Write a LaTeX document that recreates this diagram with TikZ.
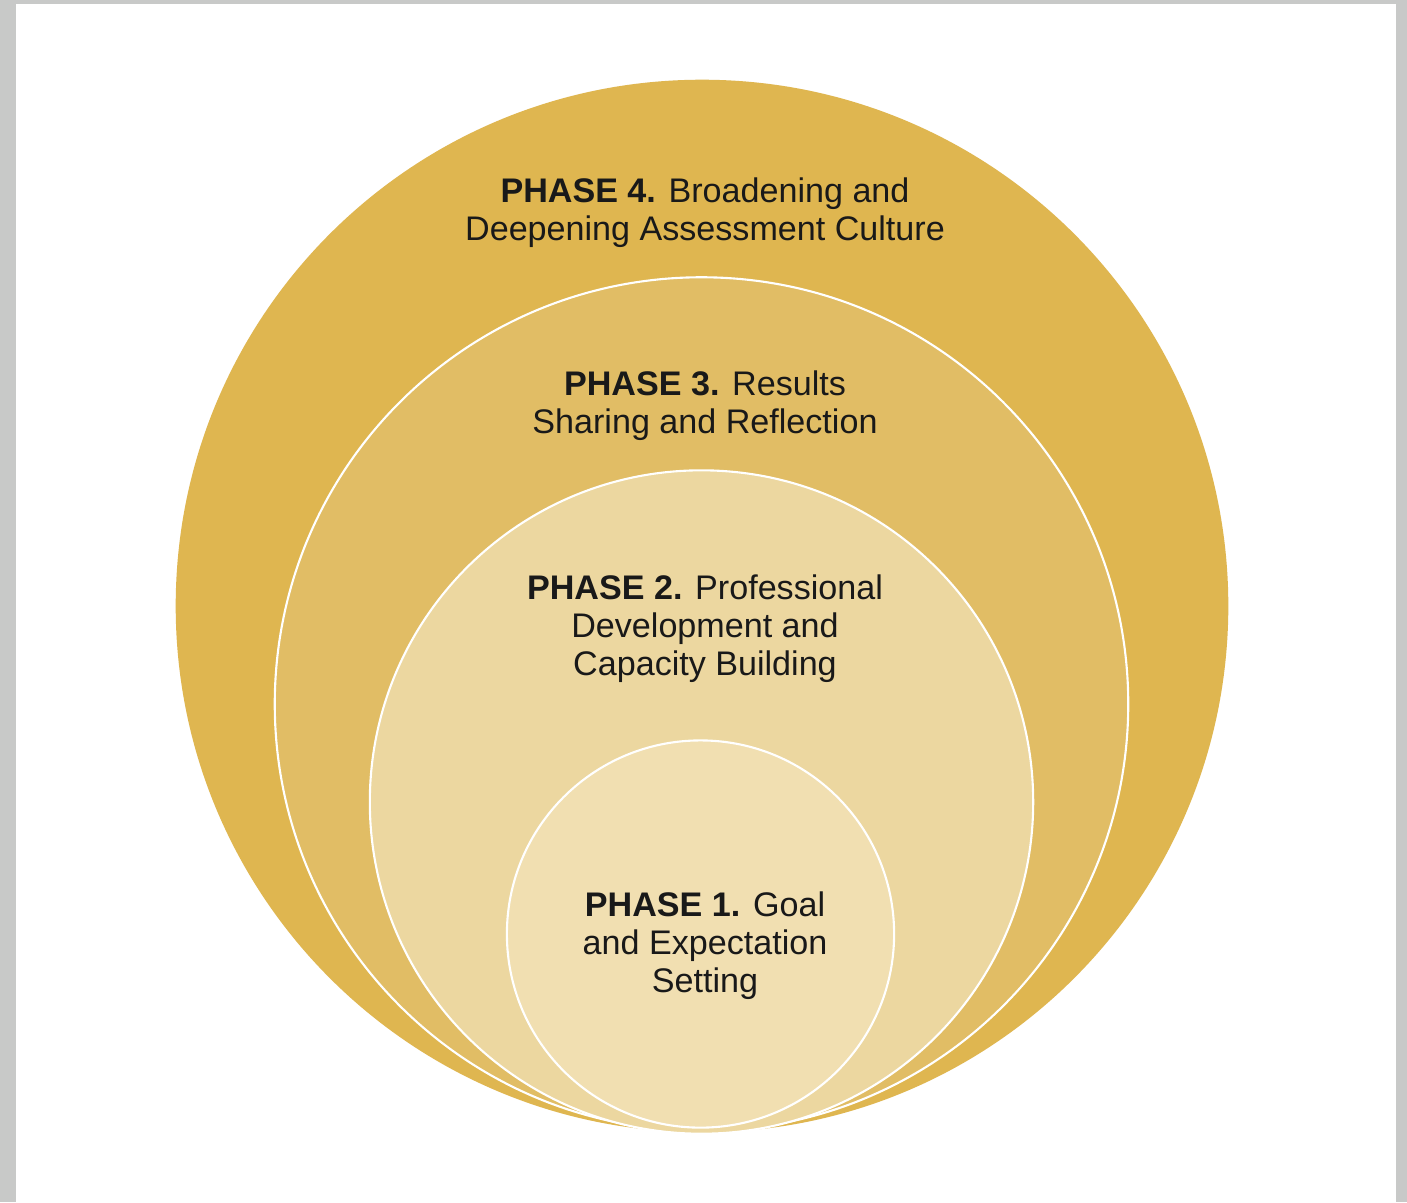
\documentclass[tikz,border=0pt]{standalone}
\usepackage{fontspec}
\setmainfont{Liberation Sans}
\begin{document}
\definecolor{frame}{HTML}{C8C9C8}
\definecolor{ringfour}{HTML}{DFB650}
\definecolor{ringthree}{HTML}{E1BD65}
\definecolor{ringtwo}{HTML}{ECD7A0}
\definecolor{ringone}{HTML}{F1DFB1}
\begin{tikzpicture}[x=0.01cm,y=-0.01cm,
  ring/.style={circle,inner sep=0pt,draw=white,line width=0.6pt},
  label/.style={anchor=base,align=center,text=black!90,
    font=\fontsize{9.7}{10.7}\selectfont}]
  % page frame
  \fill[frame] (0,0) rectangle (1407,1202);
  \fill[white] (16,4) rectangle (1396,1202);
  \useasboundingbox (0,0) rectangle (1407,1202);
  % nested phase circles
  \node[circle,inner sep=0pt,fill=ringfour,minimum size=10.52cm] (c4) at (702,606) {};
  \node[ring,fill=ringthree,minimum size=8.53cm] (c3) at (701.5,704) {};
  \node[ring,fill=ringtwo,minimum size=6.63cm] (c2) at (701.5,802) {};
  \node[ring,fill=ringone,minimum size=3.87cm] (c1) at (700.5,934) {};
  % phase labels (anchored on the baseline of their last line)
  \node[label] (t4) at (705,240) {\textbf{PHASE 4.} Broadening and\\Deepening Assessment Culture};
  \node[label] (t3) at (705,433) {\textbf{PHASE 3.} Results\\Sharing and Reflection};
  \node[label] (t2) at (705,675) {\textbf{PHASE 2.} Professional\\Development and\\Capacity Building};
  \node[label] (t1) at (705,992) {\textbf{PHASE 1.} Goal\\and Expectation\\Setting};
\end{tikzpicture}
\end{document}
